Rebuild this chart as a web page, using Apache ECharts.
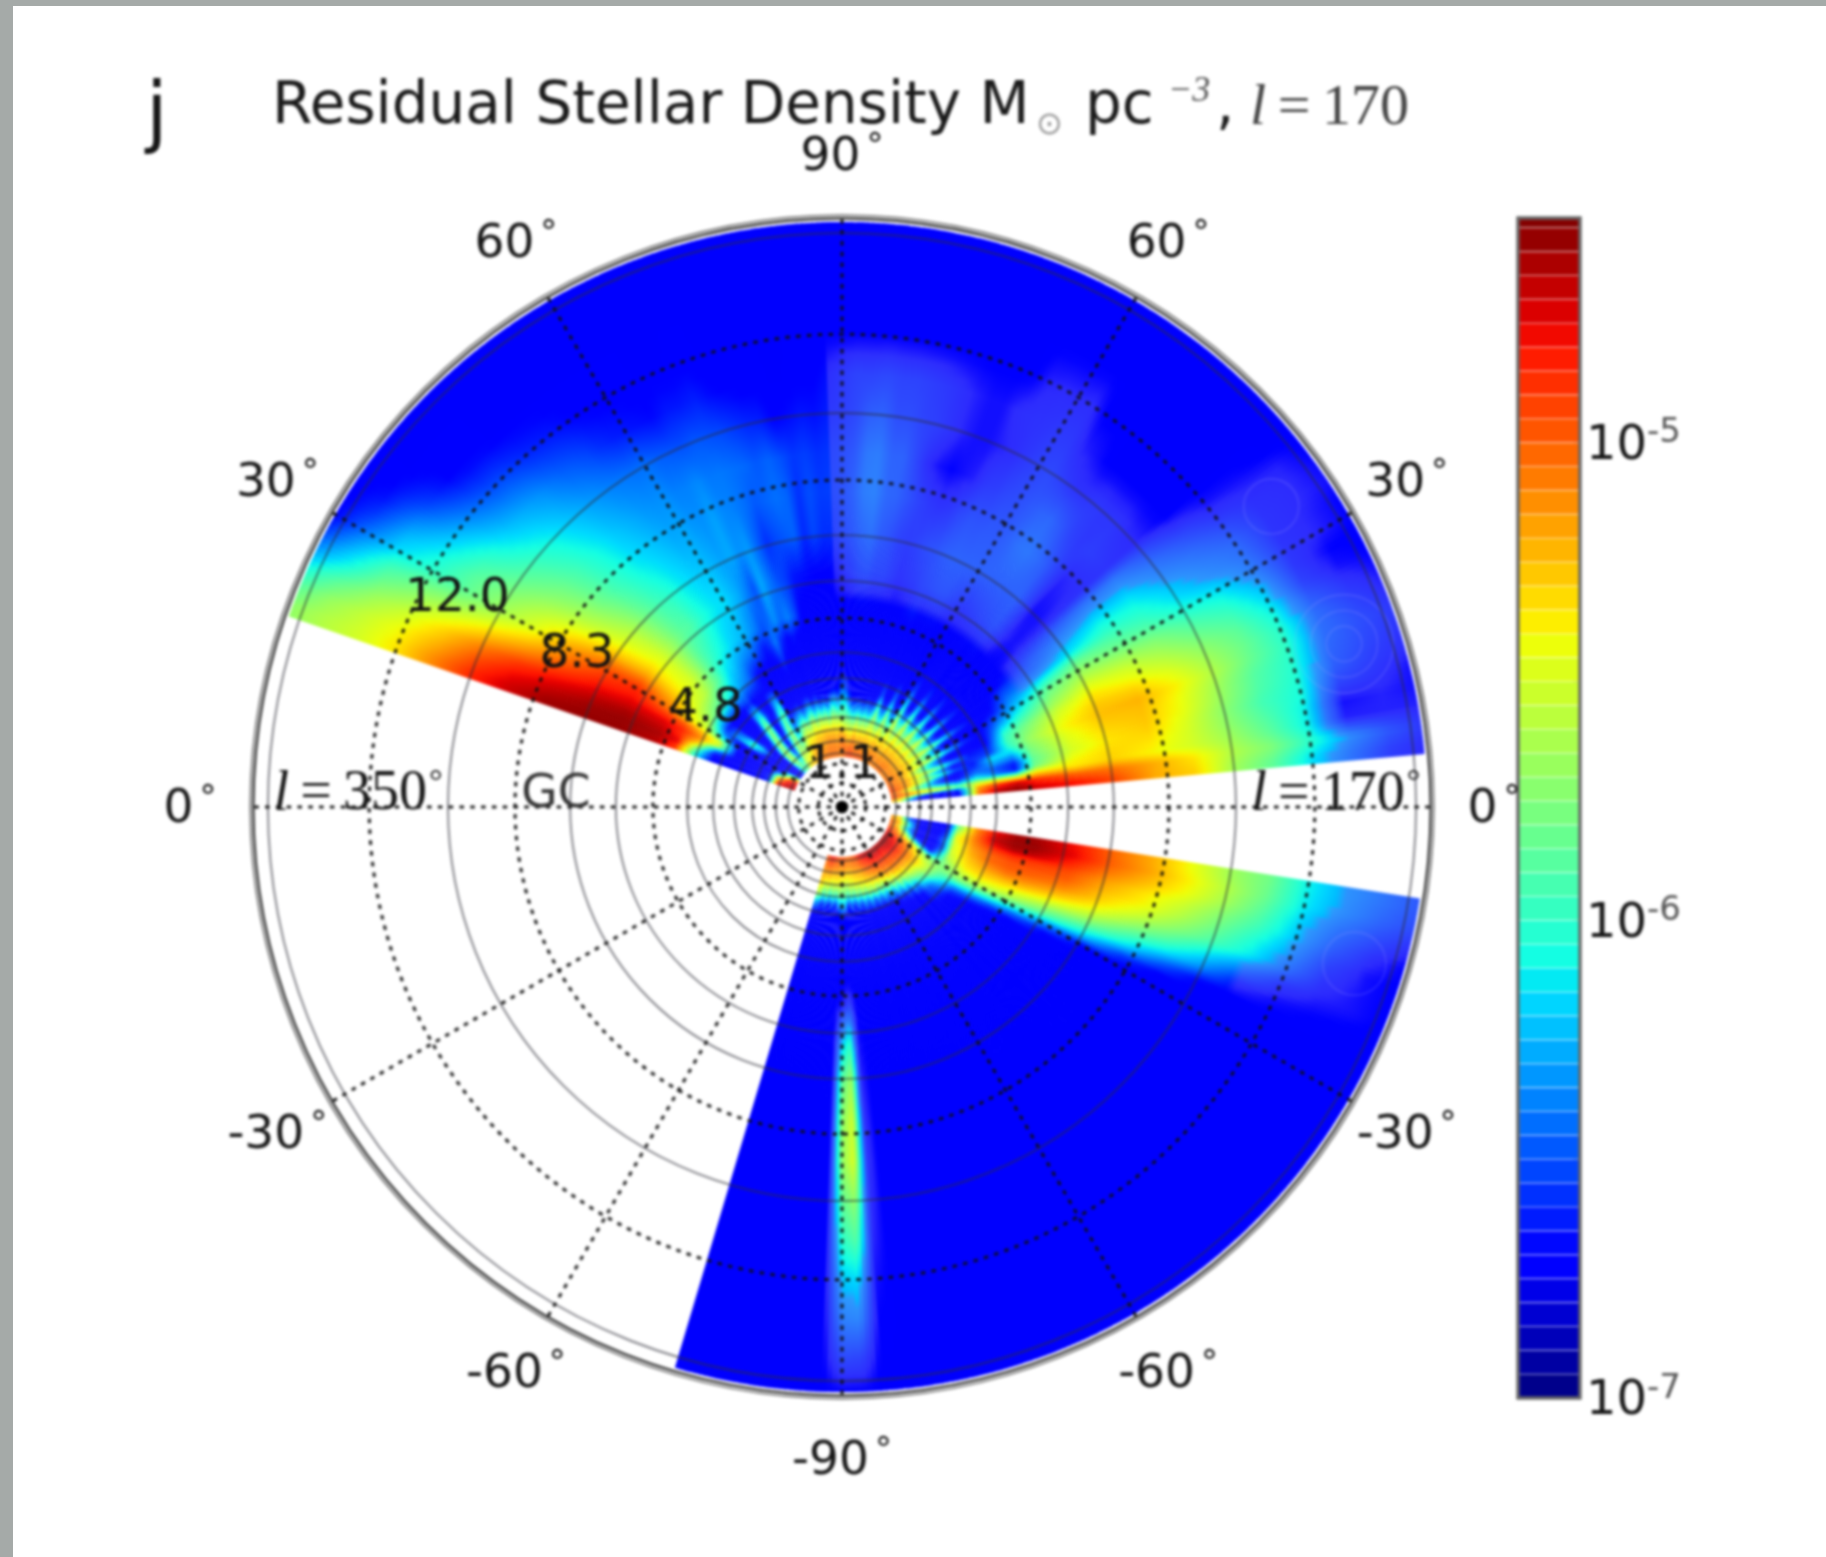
<!DOCTYPE html>
<html><head><meta charset="utf-8">
<style>
html,body{margin:0;padding:0;background:#a5aaa8;width:1826px;height:1557px;overflow:hidden}
#paper{position:absolute;left:13px;top:6px;width:1813px;height:1551px;background:#fff}
#chart{position:absolute;left:0;top:0;width:1826px;height:1557px;filter:blur(1.7px)}
</style>
<script src="https://cdn.jsdelivr.net/npm/echarts@6/dist/echarts.min.js"></script>
</head><body><div id="paper"></div><div id="chart"></div>
<script>
// radial knots of the density table (same unit as the radius labels)
const radiusKnots = [1.27,1.5,1.75,2,2.25,2.5,2.75,3,3.5,4,4.5,5,6,7,8,9,10,11,12,13,14,14.85];
// each row: latitude centre (deg, polar angle), then density at each knot,
// in 0.01 dex above 1e-7 (27 = pure-blue background; short rows continue at 27)
const upperRows = [
[160,235,235,220,40,27,27,27,27,27,100,210,235,242,242,240,230,215,190,165,150,140,130],
[158,230,232,195,35,27,27,27,27,27,125,225,238,242,240,232,222,205,180,160,146,132,115],
[156,225,225,190,40,27,27,27,27,60,170,215,232,238,232,222,210,192,170,150,135,115,95],
[154,225,220,150,30,27,27,27,27,140,190,215,225,228,222,208,190,172,152,135,120,92,70],
[152,215,190,80,27,27,27,27,30,150,175,200,208,220,213,195,172,152,132,120,105,75,48],
[150,190,150,40,27,27,27,27,27,90,150,165,190,215,205,185,155,135,115,100,85,58,30],
[148,150,100,30,27,27,27,27,27,60,140,158,180,200,190,170,148,128,113,92,75,45,27],
[146,60,27,27,27,27,60,95,80,40,130,152,170,182,172,155,138,120,105,82,62,35,27],
[144,27,27,27,27,40,85,95,60,33,122,148,160,168,158,142,128,112,95,72,48,30,27],
[142,30,27,27,27,27,40,27,27,30,115,145,155,158,148,132,120,105,85,62,38,27,27],
[140,40,27,27,27,27,27,27,27,30,110,140,150,150,140,122,112,98,78,55,30,27,27],
[138,60,80,120,110,60,30,27,27,28,100,130,140,140,130,114,105,92,74,50,28,27,27],
[136,90,110,135,130,125,95,50,30,27,92,120,128,130,120,106,98,86,70,48,28,27,27],
[134,110,120,130,115,130,130,120,85,35,85,110,115,120,112,100,92,80,66,44,27,27,27],
[132,115,100,75,50,60,95,115,105,40,75,95,105,113,105,94,86,75,60,40,27,27,27],
[130,130,110,50,27,27,27,27,50,30,70,85,98,110,100,88,80,70,55,38,27,27,27],
[128,150,140,115,90,60,30,27,27,27,62,80,92,102,94,84,76,66,52,36],
[126,165,150,135,125,110,85,50,30,27,55,72,88,95,88,80,72,62,48,33],
[124,170,155,130,125,130,120,105,70,30,40,65,82,90,84,76,68,60,42,30],
[122,175,160,130,95,80,85,105,95,30,30,60,78,86,80,72,66,58,38,29],
[120,175,165,145,110,65,40,30,30,27,27,55,75,85,78,72,66,58,36,29],
[118,180,175,160,140,105,60,30,27,27,27,45,68,78,74,68,62,54,34,28],
[116,185,180,165,150,118,75,35,27,27,27,35,60,72,70,66,62,52,32,27],
[114,190,185,172,155,130,85,40,27,27,30,42,50,62,72,70,64,50,36,27],
[112,190,185,172,152,115,65,30,27,27,40,60,55,50,66,64,60,52,36,27],
[110,195,188,178,160,135,90,45,27,27,27,40,65,72,68,62,60,50,38,28],
[108,195,190,178,165,140,100,55,28,27,27,30,55,60,55,58,58,48,33,27],
[106,198,190,180,162,122,75,35,27,27,27,35,62,50,42,52,56,44,30,27],
[104,195,192,182,168,140,95,50,28,27,27,27,50,45,48,55,52,40,28,27],
[102,198,195,185,168,130,80,35,27,27,27,27,30,36,52,58,55,38,28,27],
[100,198,195,188,170,135,95,45,27,27,27,27,27,34,55,55,50,30,27],
[98,195,195,185,165,120,75,35,27,27,27,27,27,32,40,42,44,33,27],
[96,198,195,188,170,140,105,60,28,27,27,27,27,30,48,50,46,36,28,27],
[94,198,192,180,162,135,100,70,35,27,27,27,27,30,42,45,42,34,29,27],
[92,190,195,190,170,135,90,55,30,27,27,27,27,32,42,46,44,38,34,27],
[90,195,198,192,165,128,100,80,55,27,27,27,27,36,46,48,46,40,38,27],
[88,198,200,190,158,122,100,78,48,27,27,27,27,40,50,54,50,44,42,27],
[86,205,198,178,152,118,85,45,28,27,27,27,27,46,56,64,62,52,42,27],
[84,208,200,175,148,112,65,30,27,27,27,27,27,48,60,66,64,54,44,27],
[82,212,204,182,152,108,70,35,27,27,27,27,27,44,52,56,54,46,42,27],
[80,208,200,188,162,128,75,35,27,27,27,27,27,44,48,54,54,46,42,27],
[78,208,196,175,148,108,65,30,27,27,27,27,27,40,42,48,44,42,40,27],
[76,205,192,182,160,122,78,40,27,27,27,27,27,36,40,42,34,40,38,27],
[74,208,196,178,152,112,65,32,27,27,27,27,27,38,42,38,30,36,35,27],
[72,205,195,180,160,125,80,40,27,27,27,27,30,40,46,36,28,32,32,27],
[70,205,190,178,160,140,125,95,50,27,27,27,32,44,48,38,30,30,30,27],
[68,200,195,178,155,120,80,40,27,27,27,27,27,46,52,44,32,30,30,27],
[66,195,190,175,150,115,75,40,27,27,27,27,27,48,54,48,38,32,34,27],
[64,200,190,180,165,145,130,100,60,30,27,27,27,48,54,48,40,34,35,32,27],
[62,195,195,180,155,125,85,45,27,27,27,27,27,44,54,50,44,38,36,33,27],
[60,190,190,178,150,120,85,45,27,27,27,27,27,40,54,50,46,42,38,33,27],
[58,195,195,178,165,150,150,125,95,45,27,27,27,40,54,54,50,44,38,34,27],
[56,190,190,178,160,135,105,60,30,27,27,27,27,42,54,60,54,40,32,27],
[54,195,190,175,155,130,105,60,30,27,27,27,27,44,54,62,56,36,30,27],
[52,190,190,180,170,155,150,125,95,45,27,27,27,46,54,58,50,36,27],
[50,195,190,178,160,135,105,60,30,27,27,27,27,48,54,52,42,38,27],
[48,200,190,180,160,135,105,60,30,27,27,27,27,42,44,42,38,37,27],
[46,195,195,178,170,155,150,125,95,45,27,27,27,33,30,32,40,37,27],
[44,200,190,180,160,135,105,60,30,27,27,27,27,30,30,33,38,34,27],
[42,195,195,178,160,135,105,60,30,27,27,27,27,32,33,35,36,33,27],
[40,190,190,178,170,155,150,125,95,45,27,27,27,42,52,60,62,48,36,30,29,27],
[38,195,190,178,160,135,105,60,30,27,27,27,30,52,65,74,74,60,48,36,33,32,27],
[36,190,190,178,160,135,105,60,30,27,27,27,45,58,76,88,86,68,58,46,35,33,29],
[34,195,190,180,170,155,150,125,95,45,27,30,55,70,88,98,94,78,65,55,36,33,30],
[32,195,190,178,160,135,105,60,30,27,27,35,65,95,115,110,102,85,72,60,36,32,28],
[30,200,195,182,160,135,105,60,30,27,27,50,75,115,130,120,112,95,85,65,37,32,28],
[28,195,190,178,165,150,140,115,80,40,27,65,90,125,142,135,125,108,96,75,38,28,27],
[26,200,195,178,150,115,80,45,27,27,27,85,105,135,155,148,135,118,106,84,42,30,28],
[24,200,190,178,150,115,80,45,27,30,30,100,118,148,165,158,145,128,114,92,52,36,30],
[22,205,195,185,165,145,130,105,70,35,40,105,125,155,172,170,155,135,118,98,58,42,33],
[20,205,195,180,150,115,80,50,27,40,45,100,130,160,175,178,162,140,118,100,58,46,38],
[18,210,200,185,160,140,110,85,50,35,85,85,125,155,172,175,158,135,112,98,55,44,36],
[16,205,195,170,140,105,60,35,27,45,70,60,120,152,168,173,156,132,110,96,52,40,34],
[14,200,190,150,110,80,50,30,27,60,50,35,115,150,165,170,152,128,106,94,42,36,30],
[12,205,195,175,150,125,100,80,60,90,60,35,120,158,168,165,150,130,110,90,30,32,30],
[10,210,200,190,175,165,155,140,120,150,150,140,170,165,170,160,150,135,115,90,32,32,32],
[8,190,170,120,50,30,28,30,40,185,215,228,215,200,195,180,165,140,125,100,70,50,38],
[6,175,150,60,27,27,27,27,32,195,235,242,228,220,205,180,170,135,115,85,60,40,33]
];
const lowerRows = [
[-10,190,165,50,27,27,27,30,120,190,225,240,240,222,198,180,158,135,120,90,72,60,50],
[-12,185,170,70,27,27,27,35,135,195,235,242,242,225,200,182,162,140,118,88,70,55,45],
[-14,195,175,90,27,27,27,40,150,195,225,238,235,215,192,175,158,136,112,82,60,45,35],
[-16,205,180,100,28,27,27,50,155,190,210,215,212,205,182,165,148,126,105,78,52,35,28],
[-18,205,170,75,27,27,27,60,150,185,200,205,205,200,175,160,140,118,95,70,42,30,27],
[-20,200,180,90,27,27,27,55,150,180,198,202,200,190,168,148,128,108,88,60,36,30,27],
[-22,210,190,120,30,27,27,50,150,175,190,195,190,175,155,130,110,85,60,38,32,30,27],
[-24,215,195,150,70,27,27,65,145,170,180,180,175,155,135,108,88,65,35,30,28,27,27],
[-26,220,200,170,120,60,30,85,140,165,170,165,155,130,110,85,55,30],
[-28,225,210,190,165,120,70,100,130,155,158,150,135,105,80,45,28],
[-30,230,220,200,180,150,125,120,125,140,140,125,105,60,32],
[-32,235,225,205,185,160,140,130,125,125,110,85,60,30],
[-34,238,228,210,190,170,150,135,115,95,70,45,30],
[-36,240,230,210,195,175,155,130,105,60,40],
[-38,242,232,215,195,175,150,125,90,40],
[-40,242,232,215,195,170,140,110,70,30],
[-42,240,230,212,192,168,135,100,55],
[-44,240,228,212,195,168,130,85,50],
[-46,238,225,208,190,158,120,60,35],
[-48,235,222,208,195,162,115,70,30],
[-50,238,225,205,188,152,95,45],
[-52,240,225,208,192,158,110,50],
[-54,240,228,205,182,138,80,35],
[-56,242,225,208,190,148,95,40],
[-58,240,225,202,178,128,65,30],
[-60,242,225,205,182,142,85,35],
[-62,240,222,200,172,122,60,28],
[-64,238,220,200,178,132,80,30],
[-66,236,215,195,168,118,55],
[-68,232,215,195,172,138,70,30],
[-70,228,208,190,162,122,50],
[-72,222,208,186,168,132,75,30],
[-74,215,198,180,158,112,50],
[-76,210,198,180,162,128,70,28],
[-78,205,194,176,152,108,45],
[-80,205,194,176,158,122,65],
[-82,200,190,170,148,102,40],
[-84,200,192,170,152,118,60],
[-86,200,188,165,142,98,35,27,27,27,27,27,27,30,33,35,36,35,33,30,28],
[-88,210,198,175,142,116,80,30,27,27,27,27,40,100,135,150,152,130,112,84,68,42,27],
[-90,205,192,168,142,108,75,45,27,27,27,27,30,80,115,128,130,115,100,80,65,44,27],
[-92,205,190,172,152,118,70],
[-94,210,198,176,148,98,40],
[-96,215,195,172,152,112,55],
[-98,220,198,176,142,92,35],
[-100,225,204,180,158,118,55],
[-102,220,204,176,148,98,40],
[-104,210,198,180,162,128,60],
[-106,205,194,180,166,138,70]
];
const segments = [upperRows, lowerRows];
const wedgeEdges = [[161,5.2],[-9,-106.6]];
const slicesBetweenRows = 4;

// faint contour rings in the lowest-density patches: [radius, angle, ring size]
const contourRingCentres = [13.4,13.4,13.4,13.3,13.6];
const contourRingAngles = [18,18,18,35,-17];
const contourRingSizes = [0.45,0.85,1.25,0.7,0.8];

// reference-circle radii and spoke angles
const dottedRadii = [0.6,1.1,4.8,8.3,12.0];
const solidRadii = [1.37,1.68,1.98,2.28,2.74,3.27,3.93,5.74,6.9,10,14.57];
const rimRadii = [14.94,15.02];
const spokeAngles = [0,30,60,90,120,150,180,210,240,270,300,330];
const latitudeAngles = [0,30,60,90,120,150,180,210,240,270,300,330];
const latitudeLabels = ['0','30','60','90','60','30','0','-30','-60','-90','-60','-30'];
const distanceLabels = ['12.0','8.3','4.8','1.1'];
const distanceLabelRadii = [11.14,7.8,4.31,1.12];
const distanceLabelAngles = [151.2,149.6,143.5,90];

// colour bar
const colorbarEdges = [-7,-6.95,-6.9,-6.85,-6.8,-6.75,-6.7,-6.65,-6.6,-6.55,-6.5,-6.45,-6.4,-6.35,-6.3,-6.25,-6.2,-6.15,-6.1,-6.05,-6,-5.95,-5.9,-5.85,-5.8,-5.75,-5.7,-5.65,-5.6,-5.55,-5.5,-5.45,-5.4,-5.35,-5.3,-5.25,-5.2,-5.15,-5.1,-5.05,-5,-4.95,-4.9,-4.85,-4.8,-4.75,-4.7,-4.65,-4.6,-4.55,-4.53];
const colorbarMin = -7, colorbarMax = -4.53;

// matplotlib jet knots
const jetR = [[0,0],[.35,0],[.66,1],[.89,1],[1,.5]];
const jetG = [[0,0],[.125,0],[.375,1],[.64,1],[.91,0],[1,0]];
const jetB = [[0,.5],[.11,1],[.34,1],[.65,0],[1,0]];
function ramp(k,t){for(let i=1;i<k.length;i++){if(t<=k[i][0]){const a=k[i-1],b=k[i];return a[1]+(b[1]-a[1])*(t-a[0])/(b[0]-a[0]);}}return k[k.length-1][1];}
function jet(t,tint){t=Math.max(0,Math.min(1,t));
  let c=[ramp(jetR,t)*255,ramp(jetG,t)*255,ramp(jetB,t)*255];
  if(tint){c=[c[0]*(1-tint)+125*tint,c[1]*(1-tint)+105*tint,c[2]*(1-tint)+250*tint];}
  return 'rgb('+Math.round(c[0])+','+Math.round(c[1])+','+Math.round(c[2])+')';}
const scaleSpan=(colorbarMax-colorbarMin)*100;
function tintFor(theta,r,v){
  if(v>75||v<=28) return 0;
  const s=Math.min(1,(v-28)/5)*.36;
  if(theta<=92&&theta>0&&r>=5.4) return s;
  if(theta<0&&r>=11) return s;
  if(theta<-80&&r>=4.5) return s;
  return 0;
}

const DEJAVU='"DejaVu Sans",sans-serif', SERIF='"Liberation Serif","DejaVu Serif",serif';
const INK='#151515';
const chart=echarts.init(document.getElementById('chart'),null,{renderer:'canvas'});
function pxRadius(api,params,r){const p=api.coord([r,0]);return Math.hypot(p[0]-params.coordSys.cx,p[1]-params.coordSys.cy);}

function knotValue(row,i){const v=row[i+1];return v===undefined?27:v;}

// slice list: [segment, rowA, rowB, mix, hiAngle, loAngle]; gouraud-like shading of the table
const sliceList=[];
segments.forEach((rows,seg)=>{
  const edge=wedgeEdges[seg];
  sliceList.push([seg,0,0,0,edge[0],rows[0][0]]);
  for(let i=0;i<rows.length-1;i++){
    const a=rows[i][0],b=rows[i+1][0],n=slicesBetweenRows;
    for(let s=0;s<n;s++){
      sliceList.push([seg,i,i+1,(s+.5)/n,a+(b-a)*s/n,a+(b-a)*(s+1)/n]);
    }
  }
  sliceList.push([seg,rows.length-1,rows.length-1,0,rows[rows.length-1][0],edge[1]]);
});

function renderSlice(params,api){
  const sl=sliceList[api.value(1)], rows=segments[sl[0]], ra=rows[sl[1]], rb=rows[sl[2]], mix=sl[3];
  const cs=params.coordSys, theta=(sl[4]+sl[5])/2;
  const n=radiusKnots.length;
  const outer=pxRadius(api,params,radiusKnots[n-1]), inner=pxRadius(api,params,radiusKnots[0]);
  const stops=[];
  const val=i=>knotValue(ra,i)*(1-mix)+knotValue(rb,i)*mix;
  for(let i=0;i<n;i++){
    const v=val(i), px=pxRadius(api,params,radiusKnots[i]);
    stops.push({offset:px/outer,color:jet(v/scaleSpan,tintFor(theta,radiusKnots[i],v))});
    if(i<n-1){
      const v2=val(i+1), px2=pxRadius(api,params,radiusKnots[i+1]);
      for(let s=1;s<4;s++){const f=s/4,vm=v+(v2-v)*f;
        const rm=radiusKnots[i]+(radiusKnots[i+1]-radiusKnots[i])*f;
        stops.push({offset:(px+(px2-px)*f)/outer,color:jet(vm/scaleSpan,tintFor(theta,rm,vm))});}
    }
  }
  const edge=wedgeEdges[sl[0]];
  const lo=sl[5]===edge[1]?sl[5]:sl[5]-0.15;
  return {type:'sector',shape:{cx:cs.cx,cy:cs.cy,r0:inner,r:outer,
      startAngle:-sl[4]*Math.PI/180,endAngle:-lo*Math.PI/180,clockwise:true},
    style:{fill:new echarts.graphic.RadialGradient(cs.cx,cs.cy,outer,stops,true)},silent:true};
}
function ring(color,width,dash){return function(params,api){const cs=params.coordSys;
  return {type:'circle',shape:{cx:cs.cx,cy:cs.cy,r:pxRadius(api,params,api.value(0))},
    style:{fill:'none',stroke:color,lineWidth:width,lineDash:dash||null},silent:true};};}
function renderSpoke(params,api){const a=api.coord([0,api.value(1)]),b=api.coord([15,api.value(1)]);
  return {type:'line',shape:{x1:a[0],y1:a[1],x2:b[0],y2:b[1]},
    style:{stroke:'rgba(15,15,15,.95)',lineWidth:3,lineDash:[4.5,6.3],fill:null},silent:true};}
function textItem(text,pt,rich,color){return {type:'text',style:{text:text,x:pt[0],y:pt[1]+3,align:'center',verticalAlign:'middle',rich:rich,fill:color||INK,font:'47px '+DEJAVU},silent:true};}
const latRich={n:{fontFamily:DEJAVU,fontSize:47,color:INK,padding:[0,6,0,0]},
  d:{fontFamily:DEJAVU,fontSize:34,color:'#9a9a9a',verticalAlign:'top',padding:[0,0,20,0]}};
const lRich={i:{fontFamily:SERIF,fontStyle:'italic',fontSize:56,color:'#555'},
  n:{fontFamily:SERIF,fontSize:56,color:'#555'},
  d:{fontFamily:SERIF,fontSize:34,color:'#aaa',padding:[0,0,24,2]}};

const series=[
 {type:'custom',coordinateSystem:'polar',z:2,animation:false,clip:false,
  data:sliceList.map((s,i)=>[10,i]),renderItem:renderSlice},
 {type:'custom',coordinateSystem:'polar',z:2.5,animation:false,
  data:contourRingCentres.map((r,i)=>[r,contourRingAngles[i],contourRingSizes[i]]),
  renderItem:(p,api)=>{const c=api.coord([api.value(0),api.value(1)]);
    return {type:'circle',shape:{cx:c[0],cy:c[1],r:pxRadius(api,p,api.value(2))},
      style:{fill:'none',stroke:'rgba(170,170,255,.2)',lineWidth:1.6},silent:true};}},
 {type:'custom',coordinateSystem:'polar',z:3,animation:false,
  data:solidRadii.map(r=>[r,0]),renderItem:ring('rgba(45,45,55,.6)',1.9)},
 {type:'custom',coordinateSystem:'polar',z:3,animation:false,
  data:dottedRadii.map(r=>[r,0]),renderItem:ring('rgba(15,15,15,.95)',3,[4.5,6.3])},
 {type:'custom',coordinateSystem:'polar',z:3,animation:false,
  data:spokeAngles.map(a=>[15,a]),renderItem:renderSpoke},
 {type:'custom',coordinateSystem:'polar',z:4,animation:false,
  data:rimRadii.map(r=>[r,0]),renderItem:(p,api)=>{const cs=p.coordSys;const idx=p.dataIndex;
    return {type:'circle',shape:{cx:cs.cx,cy:cs.cy,r:pxRadius(api,p,api.value(0))},
      style:{fill:'none',stroke:idx?'#777':'#2a2a2a',lineWidth:idx?1.8:2.2},silent:true};}},
 {type:'custom',coordinateSystem:'polar',z:5,animation:false,
  data:[[0.16,0]],renderItem:(p,api)=>({type:'circle',shape:{cx:p.coordSys.cx,cy:p.coordSys.cy,r:pxRadius(api,p,api.value(0))},style:{fill:'#000'},silent:true})},
 {type:'custom',coordinateSystem:'polar',z:6,animation:false,
  data:latitudeAngles.map((a,i)=>[16.55,a,i]),
  renderItem:(p,api)=>textItem('{n|'+latitudeLabels[api.value(2)]+'}{d|°}',api.coord([api.value(0),api.value(1)]),latRich)},
 {type:'custom',coordinateSystem:'polar',z:6,animation:false,
  data:distanceLabels.map((t,i)=>[distanceLabelRadii[i],distanceLabelAngles[i],i]),
  renderItem:(p,api)=>textItem(distanceLabels[api.value(2)],api.coord([api.value(0),api.value(1)]),undefined,'#111')},
 {type:'custom',coordinateSystem:'polar',z:6,animation:false,
  data:[[7.27,177,0],[12.29,178.2,1],[12.54,1.74,2]],
  renderItem:(p,api)=>{const i=api.value(2);const pt=api.coord([api.value(0),api.value(1)]);
    if(i===0) return textItem('GC',pt,undefined,'#333');
    return textItem('{i|l}{n|\u2009=\u2009'+(i===1?'350':'170')+'}{d|°}',pt,lRich);}},
 // colour bar
 {type:'custom',coordinateSystem:'cartesian2d',xAxisIndex:0,yAxisIndex:0,z:2,animation:false,
  data:colorbarEdges.slice(0,-1).map((e,i)=>[0,e,colorbarEdges[i+1]]),
  renderItem:(p,api)=>{const a=api.coord([0,api.value(1)]),b=api.coord([1,api.value(2)]);
    const mid=(api.value(1)+api.value(2))/2;
    return {type:'rect',shape:{x:a[0],y:b[1],width:b[0]-a[0],height:a[1]-b[1]},
      style:{fill:jet((mid-colorbarMin)/(colorbarMax-colorbarMin)),stroke:'rgba(255,255,255,.34)',lineWidth:1.4},silent:true};}},
 {type:'custom',coordinateSystem:'cartesian2d',xAxisIndex:0,yAxisIndex:0,z:3,animation:false,
  data:[[0,colorbarMin,colorbarMax]],
  renderItem:(p,api)=>{const a=api.coord([0,api.value(1)]),b=api.coord([1,api.value(2)]);
    return {type:'rect',shape:{x:a[0],y:b[1],width:b[0]-a[0],height:a[1]-b[1]},
      style:{fill:'none',stroke:'#666',lineWidth:3.4},silent:true};}}
];

const graphicText=(text,x,y,font,fill,align)=>({type:'text',left:x,top:y,z:10,silent:true,
  style:{text:text,font:font,fill:fill,textAlign:align||'left',textVerticalAlign:'top'}});

chart.setOption({
  animation:false,
  backgroundColor:'transparent',
  title:{text:'Residual Stellar Density M',left:272,top:79,padding:0,
    textStyle:{fontFamily:DEJAVU,fontSize:58,fontWeight:'normal',color:'#1a1a1a'}},
  polar:{center:[842,807],radius:591},
  radiusAxis:{type:'value',min:0,max:15,show:false},
  angleAxis:{type:'value',min:0,max:360,startAngle:0,clockwise:false,show:false},
  grid:{left:1518,top:218,width:62,height:1180,containLabel:false},
  xAxis:{type:'value',min:0,max:1,show:false},
  yAxis:{type:'value',min:colorbarMin,max:colorbarMax,interval:0.5,position:'right',
    axisLine:{show:false,onZero:false},splitLine:{show:false},
    axisTick:{inside:true,length:7,lineStyle:{color:'#222',width:2}},
    axisLabel:{margin:6,showMaxLabel:false,padding:[8,0,0,0],
      formatter:v=>Number.isInteger(v)?'{n|10}{e|'+v+'}':'',
      rich:{n:{fontFamily:DEJAVU,fontSize:48,color:INK},
            e:{fontFamily:DEJAVU,fontSize:34,color:'#555',padding:[0,0,26,0]}}}},
  graphic:[
    graphicText('j',146,79,'78px '+DEJAVU,INK),
    graphicText('⊙',1036,110,'32px '+DEJAVU,'#999'),
    graphicText('pc',1085,79,'58px '+DEJAVU,'#1a1a1a'),
    graphicText('−3',1168,74,'italic 36px '+SERIF,'#555'),
    graphicText(',',1216,79,'58px '+DEJAVU,'#1a1a1a'),
    {type:'text',left:1250,top:80,z:10,silent:true,style:{
      text:'{i|l}{n|\u2009=\u2009170}',rich:{i:{font:'italic 58px '+SERIF,fill:'#444',color:'#444'},n:{font:'58px '+SERIF,fill:'#444',color:'#444'}}}}
  ],
  series:series
});
</script></body></html>
